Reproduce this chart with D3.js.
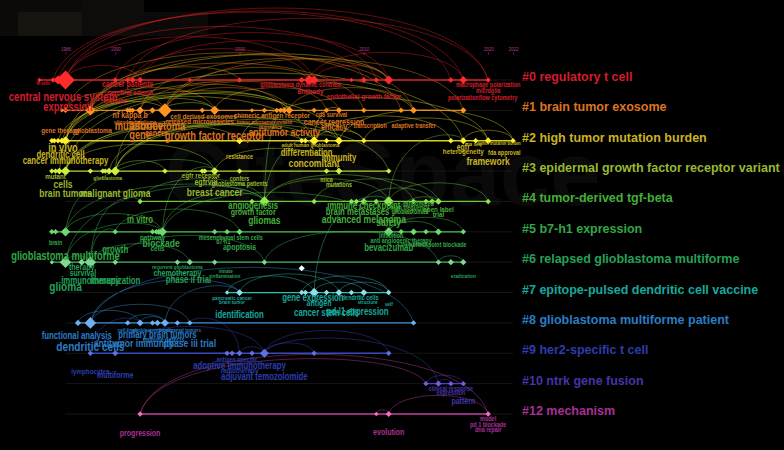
<!DOCTYPE html>
<html lang="en">
<head>
<meta charset="UTF-8" />
<title>Timeline view of clusters</title>
<script src="https://d3js.org/d3.v7.min.js"></script>
<style>
  html, body { margin: 0; padding: 0; background: #000; }
  svg { display: block; font-family: "Liberation Sans", Arial, sans-serif; }
</style>
</head>
<body>
<svg width="784" height="450"></svg>
<script>
// cluster ids, names and colours
const clusterIds = [0, 1, 2, 3, 4, 5, 6, 7, 8, 9, 10, 12];
const clusterNames = [
  "regulatory t cell", "brain tumor exosome", "high tumor mutation burden",
  "epidermal growth factor receptor variant", "tumor-derived tgf-beta", "b7-h1 expression",
  "relapsed glioblastoma multiforme", "epitope-pulsed dendritic cell vaccine",
  "glioblastoma multiforme patient", "her2-specific t cell", "ntrk gene fusion", "mechanism"
];
const labelColors = ["#d41c2c", "#dc7420", "#c8b424", "#98b830", "#44ae3a", "#32a646", "#26a058", "#18a89c", "#2a7cc4", "#2c3cac", "#4434a6", "#a83094"];
const lineColors  = ["#e02028", "#e08a18", "#d8d020", "#b0d030", "#70c840", "#50c050", "#40b868", "#30c0b0", "#3890d8", "#3848c0", "#5040c0", "#c040a0"];
const nodeColors  = ["#ff2a2a", "#ff9420", "#fff030", "#d0f040", "#90e850", "#70d870", "#80d890", "#90e0e8", "#70b0f0", "#6070e0", "#7060e0", "#f070c0"];

const yearTicks = [1986, 1990, 2000, 2010, 2020, 2022];

// nodes: [year, frequency]
const c0Nodes = [[1983.9,1],[1985,2],[1985.4,9],[1986,49],[1990,2],[1991,2],[1991.4,3],[1992,3],[1996,1],[2000,2],[2005,3],[2005.6,12],[2006,9],[2009,1],[2010,3],[2011,2],[2012,9],[2017,2],[2018,6],[2020,2]];
const c1Nodes = [[1985.7,1],[1986,2],[1988,12],[1991,2],[1991.2,2],[1991.4,2],[1992,6],[1993,3],[1994,25],[1997,2],[1998,9],[2001,1],[2002,2],[2003,2],[2003.3,2],[2003.6,3],[2004,6],[2006,2],[2007,2],[2008,3],[2010,2],[2013,2],[2014,4],[2018,3]];
const c2Nodes = [[1984.9,2],[1985.1,2],[1985.4,2],[1985.7,3],[1986,9],[2000,4],[2005,2],[2005.3,2],[2006,9],[2007,2],[2008,6],[2010,2],[2017,2],[2018,4],[2019,2],[2020,4],[2022,2]];
const c3Nodes = [[1984.9,2],[1985.2,2],[1985.5,4],[1986,9],[1988,2],[1989,2],[1989.2,2],[1989.5,4],[1990,9],[1994,2],[1997,2],[1997.2,2],[1998,6],[2000,2],[2007,2],[2008,4],[2012,2]];
const c4Nodes = [[1992,2],[2001,2],[2002,12],[2006,2],[2009,2],[2009.4,2],[2010,4],[2011,2],[2012,12],[2014,2],[2015,2],[2015.5,3],[2016,4],[2020,2]];
const c5Nodes = [[1984.9,2],[1985.2,2],[1986,9],[1990,2],[1993,2],[1993.3,2],[1993.5,3],[1993.8,9],[1998,2],[1999,2],[2000,3],[2012,9],[2013,2],[2014,4],[2015,2],[2016,4],[2018,2]];
const c6Nodes = [[1984.9,1],[1986,16],[1987.3,4],[1988,16],[1990,2],[1995,2],[1996,3],[1998,2],[2002,2],[2016,2],[2017,3],[2018,3]];
const c7Nodes = [[1999,1],[2000,4],[2005,2],[2005.3,2],[2006,9],[2007,2],[2008,4],[2009,2],[2010,4],[2012,2]];
const c8Nodes = [[1987,3],[1988,16],[1991,2],[1992,4],[1993,2],[1993.4,3],[1994,6],[1995,2],[1996,2],[2014,2]];
const c9Nodes = [[1988,2],[1990,3],[1999,2],[1999.4,2],[2000,3],[2001,2],[2002,9],[2006,2],[2012,2]];
const c10Nodes = [[2015,2],[2016,3],[2017,2],[2018,2]];
const c12Nodes = [[1992,2],[2011,1],[2012,3],[2020,2]];
const strayNodes = [[2005, 6.2, 3]]; // [year, row position, frequency]

// labels: [text, year, font size, line below timeline]
const c0Labels = [["th cells",1984.2,5,5],["cancer patients",1991,9,7],["cerebral edema",1991.2,8,15],["immune",1990,8,23],["central nervous system",1985.8,12.5,21],["expression",1986.2,12,31],["glioblastoma dynamic contrast",2004.9,7,7],["antibody",2005.7,8,14],["endothelial growth factor",2010,8,19],["macrophage polarization",2020,7,7],["microglia",2020,7,13],["polarization",2018,7,20],["flow cytometry",2020.8,7,20]];
const c1Labels = [["nf kappa b",1991.2,9,8],["oligodendroglioma",1991.6,6,14],["multiforme",1991.9,12,20],["astrocytoma",1993.4,12,20],["gene therapy",1985.6,8,23],["glioblastoma",1988.2,8,23],["gene",1992,12,29],["cancer",1993.3,9,26],["growth factor receptor",1998,12,30],["cell derived exosomes",1997.1,8,9],["released microvesicles",1996.8,8,14],["chimeric antigen receptor",2002.6,8,8],["tumor microenvironment",2002,6,14],["resistance",2002.5,6,19],["antitumor activity",2003.6,11,26],["cd8 survival",2007.4,7,7],["cancer regression",2007.6,9,15],["efficacy",2007.6,9,20],["transcription",2010.5,7,18],["adaptive transfer",2014,7,18]];
const c2Labels = [["in vivo",1985.8,12,11],["dendritic cell",1985.6,10,17],["cancer immunotherapy",1986,10,23],["resistance",2000,7,18],["adult human glioblastoma",2005.7,6,6],["differentiation",2005.4,10,15],["immunity",2008,10,20],["concomitant",2006,11,26],["egfr",2018,9,9],["heterogeneity",2018,8,13],["rna seq",2018.8,6,5],["tumor mutation burden",2020.9,5,4],["fda approval",2021.3,7,14],["framework",2020,11,24]];
const c3Labels = [["mutant",1985.2,8,8],["cells",1985.8,11,17],["glioblastoma",1989.4,6,9],["egfr receptor",1996.9,8,7],["egfrviii",1997.3,9,14],["confers",2000,7,10],["glioblastoma patients",2000,7,15],["brain tumors",1986,11,26],["malignant glioma",1990,11,26],["breast cancer",1998,11,25],["mica",2007,7,11],["mutations",2008,7,16]];
const c4Labels = [["in vitro",1992,10,22],["angiogenesis",2001.1,10,8],["growth factor",2001.1,9,14],["gliomas",2002,11,23],["immune checkpoint",2010,10,8],["brain metastases",2009.5,10,14],["advanced melanoma",2010,11,22],["safety",2012,11,25],["randomized",2014.4,7,5],["high frequency",2013.7,7,9],["glioblastomas",2013.7,7,13],["open label",2016,8,11],["trial",2016,8,16]];
const c5Labels = [["brain",1985.2,7,13],["pathway",1993,8,8],["blockade",1993.7,11,15],["cells",1993.4,8,19],["mesenchymal stem cells",1999.3,7,8],["b7 h1",1998.7,7,12],["apoptosis",2000,9,18],["glioblastoma multiforme",1986,12,28],["growth",1990,10,21],["inhibition",2012.2,7,6],["anti angiogenic therapy",2013,7,11],["therapeutic",2014,6,14],["checkpoint blockade",2016.1,7,15],["bevacizumab",2012,10,19]];
const c6Labels = [["therapy",1987.3,9,8],["survival",1987.4,9,14],["immunotherapy",1988,10,22],["immunization",1990,10,22],["glioma",1986,13,29],["recurrent glioblastoma",1995,6,7],["chemotherapy",1995,9,14],["innate",1998.9,6,11],["inflammation",1998.9,6,16],["phase ii trial",1995.9,10,21],["eradication",2018,6,16]];
const c7Labels = [["pancreatic cancer",1999.4,6,7],["brain tumor",1999.4,6,11],["identification",2000,10,25],["gene expression",2005.9,10,8],["antigen",2006.4,9,13],["dendritic cells",2009.7,7,7],["structure",2010.3,6,11],["self",2012,6,13],["cancer stem cells",2007,10,23],["pd-l1 expression",2009.5,10,22]];
const c8Labels = [["cell lines",1991,6,9],["glioblastoma cells",1993,6,9],["intracranial tumors",1995.2,6,9],["functional analysis",1986.9,10,16],["primary brain tumors",1993.4,10,15],["immune defects",1993.9,7,19],["antitumor immunity",1991.5,11,24],["dendritic cells",1988,13,28],["phase iii trial",1996,11,24]];
const c9Labels = [["lymphocytes",1988,8,21],["multiforme",1990,9,25],["antigen specific",1999.8,7,9],["adoptive immunotherapy",2000,10,16],["radiotherapy",2000,8,20],["adjuvant temozolomide",2002,10,27]];
const c10Labels = [["clinical response",2017,7,7],["expression",2017,7,11],["pattern",2018,9,20]];
const c12Labels = [["progression",1992,9,22],["evolution",2012,9,21],["model",2020,7,7],["pd 1 blockade",2020,7,13],["dna repair",2020,7,18]];

// co-occurrence links: [cluster, year, cluster, year]
const links = [
  [0,1986,0,2020],[0,1985.4,0,2018],[0,1990,0,2012],[0,1986,0,2006],[0,1992,0,2010],[0,2005.6,0,2018],[0,2006,0,2012],[0,1991.4,0,2005.6],[0,1986,0,1992],
  [0,1985,0,2017],[0,1986,0,2011],[0,1991,0,2020],
  [1,1988,1,2014],[1,1994,1,2018],[1,1994,1,2004],[1,1988,1,1998],[1,1998,1,2008],[1,2004,1,2014],[1,1992,1,2003.6],[1,1986,1,1994],
  [1,1986,1,2013],[1,1988,1,2010],[1,1994,1,2007],[1,1992,0,2012],
  [1,1994,0,2005.6],[1,1988,0,2000],
  [2,1986,2,2018],[2,1985.4,2,2006],[2,2000,2,2020],[2,2006,2,2017],[2,2008,2,2022],[2,2018,2,2022],[2,2006,2,2010],[2,2010,2,2020],
  [2,1986,1,1994],[2,1986,1,2004],[2,2006,1,2008],[2,1985.7,1,2014],[2,1986,0,2012],[2,1986,2,2008],
  [3,1986,3,1998],[3,1990,3,2012],[3,1986,3,2008],[3,1998,3,2008],[3,1990,3,1994],
  [3,1986,1,2004],[3,1990,2,2006],[3,1986,2,2000],[3,1990,1,1998],
  [3,1985.5,1,1998],[3,1986,2,2008],[3,1989.5,2,2005],[3,1990,2,2010],
  [4,1992,4,2002],[4,2002,4,2012],[4,2006,4,2016],[4,2010,4,2015.5],[4,2012,4,2020],[4,2002,4,2014],
  [4,2002,1,2004],[4,2012,2,2018],
  [5,1986,3,1998],[4,2002,2,2008],[5,1986,4,2002],[5,1993.8,4,2002],[6,1988,4,1992],
  [5,2012,4,2016],[6,1986,4,2002],[5,1993.8,3,1998],
  [5,1986,5,1993.8],[5,1993.8,5,2012],[5,1990,5,2000],[5,2012,5,2018],[5,2012,5,2016],
  [6,1986,5,1993.8],[6,1988,5,1990],
  [6,1986,6,1988],[6,1988,6,1996],[6,1990,6,2002],[6,2002,6,2016],[6,2016,6,2018],
  [7,2005,7,2012],[7,2006,7,2010],[7,2000,7,2008],[7,1999,7,2006],[7,2008,7,2012],
  [7,2006,4,2012],
  [8,1988,8,1996],[8,1988,8,2014],[8,1992,8,1994],[8,1991,8,1994],[8,1987,8,1992],
  [8,1988,7,2000],[9,1988,8,1992],[8,1994,7,2000],[9,2000,8,1996],
  [9,2002,9,2012],[9,2002,9,2006],[9,2000,9,2002],[9,1990,9,2002],
  [10,2015,10,2018],[10,2016,10,2017],
  [12,1992,12,2020],[12,2012,12,2020],[12,2011,12,2012],
  [12,1992,10,2015],[9,2002,10,2016]
];

const nodesById = { 0: c0Nodes, 1: c1Nodes, 2: c2Nodes, 3: c3Nodes, 4: c4Nodes, 5: c5Nodes, 6: c6Nodes, 7: c7Nodes, 8: c8Nodes, 9: c9Nodes, 10: c10Nodes, 12: c12Nodes };
const labelsById = { 0: c0Labels, 1: c1Labels, 2: c2Labels, 3: c3Labels, 4: c4Labels, 5: c5Labels, 6: c6Labels, 7: c7Labels, 8: c8Labels, 9: c9Labels, 10: c10Labels, 12: c12Labels };

const svg = d3.select("svg");

const x = d3.scaleLinear().domain([1986, 2022]).range([65.5, 513]);
const y = d3.scalePoint().domain(clusterIds).range([80, 414]);
const step = y.step();
const r = (f) => 1 + 1.2 * Math.sqrt(f);
const idx = (cid) => clusterIds.indexOf(cid);
const squeeze = 0.78; // node labels are drawn narrow

const diamond = (s) => `M0,${-s}L${s},0L0,${s}L${-s},0Z`;

// faint watermark backdrop
const bg = svg.append("g");
bg.append("rect").attr("x", 0).attr("y", 0).attr("width", 784).attr("height", 450).attr("fill", "#000");
bg.append("rect").attr("x", 0).attr("y", 0).attr("width", 82).attr("height", 36).attr("fill", "#0c0a08");
bg.append("rect").attr("x", 18).attr("y", 12).attr("width", 64).attr("height", 24).attr("fill", "#17130e");
bg.append("rect").attr("x", 82).attr("y", 0).attr("width", 62).attr("height", 36).attr("fill", "#0d0c0a");
bg.append("rect").attr("x", 144).attr("y", 12).attr("width", 64).attr("height", 24).attr("fill", "#0b0a09");
bg.append("text").attr("x", 165).attr("y", 205).attr("font-size", 90).attr("font-weight", "bold")
  .attr("fill", "#0a0a0a").text("CiteSpace");

// year axis
const axis = svg.append("g").attr("transform", "translate(0,55)")
  .call(d3.axisTop(x).tickValues(yearTicks).tickFormat(d3.format("d")).tickSize(3).tickPadding(1));
axis.select(".domain").remove();
axis.selectAll("line").attr("stroke", "#7a2a6a").attr("stroke-width", 0.6);
axis.selectAll("text").attr("fill", "#b03890").attr("font-size", 4.5).attr("font-family", "Liberation Sans, Arial");

// links
function arcPath(x1, y1, x2, y2) {
  if (x1 > x2) [x1, y1, x2, y2] = [x2, y2, x1, y1];
  const dx = x2 - x1;
  const same = Math.abs(y1 - y2) < 1;
  const h = (same ? dx * 0.22 : dx * 0.12) + 3;
  const top = Math.min(y1, y2) - h;
  return `M${x1},${y1} C${x1 + dx * 0.06},${top} ${x2 - dx * 0.06},${top} ${x2},${y2}`;
}
svg.append("g").selectAll("path").data(links).join("path")
  .attr("d", (d) => arcPath(x(d[1]), y(d[0]), x(d[3]), y(d[2])))
  .attr("fill", "none")
  .attr("stroke", (d) => lineColors[idx(d[0])])
  .attr("stroke-opacity", 0.55)
  .attr("stroke-width", 0.8);

// faint guide lines
svg.append("g").selectAll("line").data(clusterIds).join("line")
  .attr("x1", x(1986)).attr("x2", x(2022))
  .attr("y1", (d) => y(d)).attr("y2", (d) => y(d))
  .attr("stroke", "#1c1c1c").attr("stroke-width", 0.8);

// timelines
svg.append("g").selectAll("line").data(clusterIds).join("line")
  .attr("x1", (d) => x(d3.min(nodesById[d], (n) => n[0])))
  .attr("x2", (d) => x(d3.max(nodesById[d], (n) => n[0])))
  .attr("y1", (d) => y(d)).attr("y2", (d) => y(d))
  .attr("stroke", (d) => lineColors[idx(d)])
  .attr("stroke-width", 1.3);

// nodes
clusterIds.forEach((cid) => {
  svg.append("g").selectAll("path").data(nodesById[cid]).join("path")
    .attr("transform", (d) => `translate(${x(d[0])},${y(cid)})`)
    .attr("d", (d) => diamond(r(d[1])))
    .attr("fill", nodeColors[idx(cid)]);
});
svg.append("g").selectAll("path").data(strayNodes).join("path")
  .attr("transform", (d) => `translate(${x(d[0])},${y(6) + (d[1] - 6) * step})`)
  .attr("d", (d) => diamond(r(d[2])))
  .attr("fill", "#ffffff");

// node labels
clusterIds.forEach((cid) => {
  svg.append("g").selectAll("text").data(labelsById[cid]).join("text")
    .attr("transform", (d) => `translate(${x(d[1])},${y(cid) + d[3]}) scale(${squeeze},1)`)
    .attr("text-anchor", "middle")
    .attr("font-size", (d) => d[2])
    .attr("font-weight", "bold")
    .attr("fill", labelColors[idx(cid)])
    .text((d) => d[0]);
});

// cluster labels
svg.append("g").selectAll("text").data(clusterIds).join("text")
  .attr("x", 522)
  .attr("y", (d) => y(d) + 1)
  .attr("font-size", 12.5)
  .attr("font-weight", "bold")
  .attr("fill", (d) => labelColors[idx(d)])
  .text((d, i) => `#${d} ${clusterNames[i]}`);
</script>
</body>
</html>
